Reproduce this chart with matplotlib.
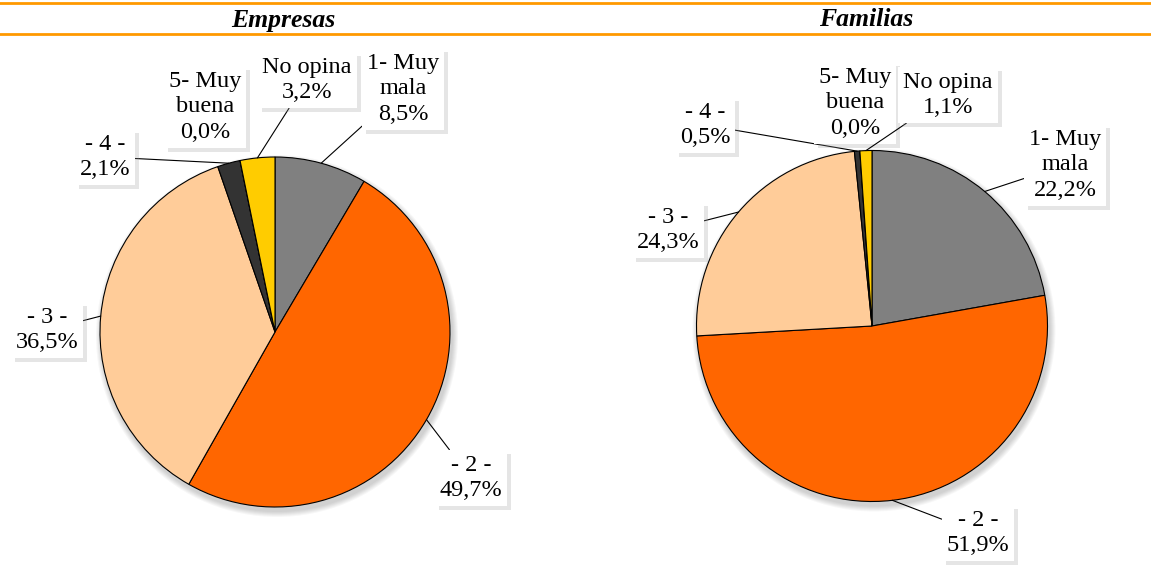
import numpy as np
import matplotlib
matplotlib.use("Agg")
import matplotlib.pyplot as plt
import matplotlib.patheffects as pe
from matplotlib.patches import Circle

plt.rcParams['font.family'] = ['Liberation Serif', 'DejaVu Serif']

# datos
categorias = ['1- Muy\nmala', '- 2 -', '- 3 -', '- 4 -', '5- Muy\nbuena', 'No opina']
empresas = [8.5, 49.7, 36.5, 2.1, 0.0, 3.2]
familias = [22.2, 51.9, 24.3, 0.5, 0.0, 1.1]
colores = ['#808080', '#FF6600', '#FFCC99', '#333333', '#4F81BD', '#FFCC00']

# posiciones de las etiquetas (pixeles, y hacia arriba)
pos_emp = [(403, 490), (471, 101), (47, 249), (105, 422), (205, 472), (307, 499)]
pos_fam = [(1065, 414), (978, 46), (668, 349), (705, 454), (855, 476), (948, 484)]

fig = plt.figure(figsize=(11.51, 5.79), dpi=100)
ax = fig.add_axes([0, 0, 1, 1])

# cabecera
ax.axhline(576, color='#FF9900', lw=2)
ax.axhline(545, color='#FF9900', lw=2)
ax.text(283, 559, 'Empresas', ha='center', va='center', fontsize=18.5,
        fontweight='bold', style='italic')
ax.text(866, 559, 'Familias', ha='center', va='center', fontsize=18.5,
        fontweight='bold', style='italic')


def tarta(valores, centro, radio, posiciones):
    # sombra difusa
    for k in range(6):
        ax.add_patch(Circle((centro[0] + 2, centro[1] - 4), radio + 6 - k,
                            color='black', alpha=0.03, lw=0, zorder=0.5))
    wedges, _ = ax.pie(valores, colors=colores, startangle=90, counterclock=False,
                       center=centro, radius=radio, frame=True,
                       wedgeprops=dict(edgecolor='black', linewidth=0.8, zorder=1))
    for i, w in enumerate(wedges):
        txt = categorias[i] + '\n' + ('%.1f%%' % valores[i]).replace('.', ',')
        ang = np.deg2rad((w.theta1 + w.theta2) / 2)
        punto = (centro[0] + radio * np.cos(ang), centro[1] + radio * np.sin(ang))
        flecha = None
        if valores[i] > 0:
            flecha = dict(arrowstyle='-', color='black', lw=0.8, shrinkA=0, shrinkB=0)
        t = ax.annotate(txt, xy=punto, xytext=posiciones[i], ha='center', va='center',
                        fontsize=17.5, linespacing=1.3, arrowprops=flecha, zorder=3,
                        bbox=dict(boxstyle='square,pad=0.2', fc='white', ec='none'))
        t.get_bbox_patch().set_path_effects([
            pe.withSimplePatchShadow(offset=(3, -3), shadow_rgbFace='#999999', alpha=0.25),
            pe.Normal()])


tarta(empresas, (275, 247), 175, pos_emp)
tarta(familias, (872, 253), 175.5, pos_fam)

ax.set_xlim(0, 1151)
ax.set_ylim(0, 579)
ax.set_aspect('auto')
ax.axis('off')

fig.savefig('out.png', dpi=100)
